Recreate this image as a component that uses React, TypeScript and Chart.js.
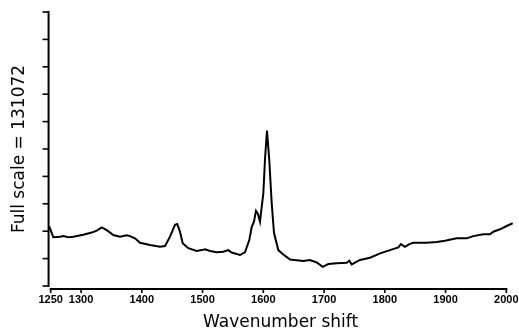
import React, { useEffect, useRef } from "react";
import { Chart, registerables } from "chart.js";

Chart.register(...registerables);

// Raman spectrum
const wavenumbers = [
  1246.0, 1248.0, 1254.3, 1265.3, 1270.7, 1279.0, 1287.2, 1303.7, 1317.5, 1325.7,
  1334.0, 1342.2, 1353.0, 1364.1, 1375.1, 1380.5, 1388.8, 1397.0, 1413.5, 1429.9,
  1438.2, 1446.4, 1454.6, 1458.4, 1462.8, 1467.3, 1476.5, 1490.3, 1498.6, 1504.0,
  1512.2, 1523.2, 1534.1, 1542.3, 1547.9, 1561.6, 1569.8, 1576.9, 1580.9, 1584.6,
  1587.9, 1591.2, 1594.5, 1600.0, 1602.7, 1606.0, 1609.8, 1613.8, 1617.6, 1624.7,
  1632.9, 1643.9, 1665.8, 1676.8, 1687.9, 1697.7, 1707.0, 1720.8, 1737.2, 1741.5,
  1745.5, 1759.1, 1775.6, 1792.1, 1808.5, 1822.2, 1826.6, 1833.2, 1840.3, 1846.9,
  1868.9, 1885.4, 1899.0, 1918.3, 1934.8, 1945.6, 1962.1, 1973.1, 1978.6, 1989.6,
  2000.6, 2010.5,
];
const intensity = [
  2.16, 2.15, 1.78, 1.80, 1.82, 1.78, 1.80, 1.87, 1.95, 2.02,
  2.14, 2.04, 1.86, 1.80, 1.85, 1.82, 1.74, 1.58, 1.50, 1.43,
  1.46, 1.80, 2.23, 2.26, 1.98, 1.56, 1.38, 1.28, 1.31, 1.34,
  1.28, 1.23, 1.25, 1.31, 1.22, 1.13, 1.23, 1.68, 2.15, 2.35,
  2.74, 2.63, 2.35, 3.38, 4.60, 5.67, 4.60, 3.02, 1.93, 1.31,
  1.15, 0.97, 0.91, 0.95, 0.86, 0.70, 0.80, 0.83, 0.85, 0.92,
  0.79, 0.95, 1.03, 1.19, 1.31, 1.41, 1.53, 1.43, 1.53, 1.58,
  1.58, 1.61, 1.65, 1.74, 1.74, 1.82, 1.89, 1.89, 1.98, 2.07,
  2.19, 2.29,
];
const xTickValues = [1250, 1300, 1400, 1500, 1600, 1700, 1800, 1900, 2000];
const yTickValues = [0, 1, 2, 3, 4, 5, 6, 7, 8, 9, 10];
const xTitle = "Wavenumber shift";
const yTitle = "Full scale = 131072";

const axesPlugin = {
  id: "axesPlugin",
  afterDraw(chart: any) {
    const { ctx, chartArea, scales } = chart;
    const x = scales.x;
    const y = scales.y;
    ctx.save();
    ctx.strokeStyle = "#000";
    ctx.lineWidth = 2;
    ctx.lineCap = "butt";
    // y axis
    const ax = chartArea.left + 0.3;
    const yTop = y.getPixelForValue(yTickValues[yTickValues.length - 1]);
    const yBot = y.getPixelForValue(yTickValues[0]);
    ctx.beginPath();
    ctx.moveTo(ax, yTop - 1);
    ctx.lineTo(ax, yBot + 1);
    ctx.stroke();
    ctx.lineWidth = 1.6;
    for (const v of yTickValues) {
      const py = y.getPixelForValue(v);
      ctx.beginPath();
      ctx.moveTo(ax - 6, py);
      ctx.lineTo(ax, py);
      ctx.stroke();
    }
    // x axis
    const ay = chartArea.bottom + 3;
    const x0 = x.getPixelForValue(xTickValues[0]);
    const x1 = x.getPixelForValue(xTickValues[xTickValues.length - 1]);
    ctx.lineWidth = 2;
    ctx.beginPath();
    ctx.moveTo(x0 - 1, ay);
    ctx.lineTo(x1 + 1, ay);
    ctx.stroke();
    ctx.lineWidth = 1.6;
    for (const v of xTickValues) {
      const px = x.getPixelForValue(v);
      ctx.beginPath();
      ctx.moveTo(px, ay);
      ctx.lineTo(px, ay + 4);
      ctx.stroke();
    }
    ctx.restore();
  },
};

export default function App() {
  const canvasRef = useRef<HTMLCanvasElement | null>(null);

  useEffect(() => {
    const canvas = canvasRef.current;
    if (!canvas) return;
    const points = wavenumbers.map((w, i) => ({ x: w, y: intensity[i] }));
    const chart = new Chart(canvas, {
      type: "line",
      data: {
        datasets: [
          {
            data: points,
            borderColor: "#000",
            borderWidth: 2,
            pointRadius: 0,
            tension: 0,
            fill: false,
          },
        ],
      },
      options: {
        animation: false,
        responsive: true,
        maintainAspectRatio: false,
        layout: { padding: { left: 0, right: 6, top: 12, bottom: 0 } },
        plugins: {
          legend: { display: false },
          tooltip: { enabled: false },
        },
        scales: {
          x: {
            type: "linear",
            min: 1246,
            max: 2011,
            grid: { display: false, drawTicks: false },
            border: { display: false },
            afterBuildTicks: (s: any) => {
              s.ticks = xTickValues.map((v) => ({ value: v }));
            },
            ticks: {
              autoSkip: false,
              maxRotation: 0,
              minRotation: 0,
              padding: 7.4,
              color: "#000",
              font: { family: "Liberation Sans", size: 11, weight: "bold" },
              callback: (v: any) => String(v),
            },
            title: {
              display: true,
              text: xTitle,
              color: "#000",
              font: { family: "DejaVu Sans", size: 17 },
              padding: { top: 0, bottom: 2.8 },
            },
            afterFit: (s: any) => {
              s.height = 50;
              s.paddingLeft = 0;
              s.paddingRight = 0;
            },
          },
          y: {
            type: "linear",
            min: 0,
            max: 10,
            grid: { display: false, drawTicks: false },
            border: { display: false },
            ticks: { display: false },
            title: {
              display: true,
              text: yTitle,
              color: "#000",
              font: { family: "DejaVu Sans", size: 17 },
              padding: { top: 9.8, bottom: 0 },
            },
            afterFit: (s: any) => {
              s.width = 48.27;
              s.paddingTop = 0;
              s.paddingBottom = 0;
            },
          },
        },
      },
      plugins: [axesPlugin],
    });
    return () => chart.destroy();
  }, []);

  return (
    <div style={{ position: "fixed", left: 0, top: 0, width: 519, height: 336, background: "#fff" }}>
      <canvas ref={canvasRef} />
    </div>
  );
}
